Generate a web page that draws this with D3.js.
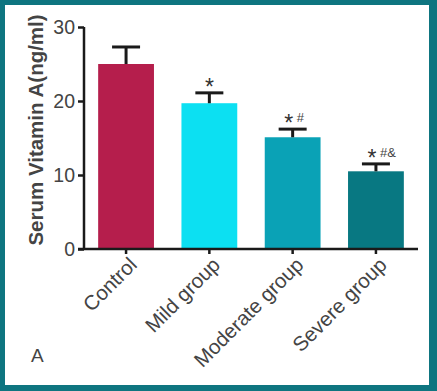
<!DOCTYPE html>
<html><head><meta charset="utf-8">
<script src="https://cdn.jsdelivr.net/npm/d3@7"></script>
<style>body{margin:0;background:#fff}svg{display:block}</style>
</head><body><svg id="c" width="437" height="391"></svg>
<script>
const categories = ["Control", "Mild group", "Moderate group", "Severe group"];
const means = [25.0, 19.7, 15.1, 10.5];
const errors = [2.3, 1.4, 1.1, 1.0];
const marksStar = ["", "*", "*", "*"];
const marksExtra = ["", "", "#", "#&"];
const colors = ["#b51e4c", "#0ce0f2", "#0aa2b6", "#087882"];
const yTicks = [0, 10, 20, 30];

const svg = d3.select("#c");
svg.append("rect").attr("x", 0).attr("y", 0).attr("width", 437).attr("height", 391).attr("fill", "#0e7580");
svg.append("rect").attr("x", 5).attr("y", 5).attr("width", 424).attr("height", 380).attr("fill", "#fff");

const y = d3.scaleLinear().domain([0, 30]).range([249, 27]);
const x = d3.scaleBand().domain(categories).range([84, 418]).paddingInner(0.33).paddingOuter(0.17);

const font = "Liberation Sans, Arial, sans-serif";
svg.selectAll(".bar").data(categories).enter().append("rect")
  .attr("x", d => x(d)).attr("width", x.bandwidth())
  .attr("y", (d, i) => y(means[i])).attr("height", (d, i) => y(0) - y(means[i]))
  .attr("fill", (d, i) => colors[i]);

const eg = svg.append("g").attr("stroke", "#1a1a1a").attr("stroke-width", 3);
categories.forEach((d, i) => {
  const cx = x(d) + x.bandwidth() / 2;
  eg.append("line").attr("x1", cx).attr("x2", cx).attr("y1", y(means[i])).attr("y2", y(means[i] + errors[i]));
  eg.append("line").attr("x1", cx - 14).attr("x2", cx + 14).attr("y1", y(means[i] + errors[i])).attr("y2", y(means[i] + errors[i]));
});

categories.forEach((d, i) => {
  if (!marksStar[i]) return;
  const cx = x(d) + x.bandwidth() / 2;
  const top = y(means[i] + errors[i]);
  const sx = marksExtra[i] ? cx - 4 : cx;
  svg.append("text").attr("x", sx).attr("y", top + 2).attr("text-anchor", "middle")
    .attr("font-family", font).attr("font-size", 23).attr("fill", "#333").text(marksStar[i]);
  if (marksExtra[i]) {
    svg.append("text").attr("x", cx + 4).attr("y", top - 7).attr("text-anchor", "start")
      .attr("font-family", font).attr("font-size", 13).attr("fill", "#444").text(marksExtra[i]);
  }
});

const yAxis = d3.axisLeft(y).tickValues(yTicks).tickSize(6).tickPadding(3);
const gy = svg.append("g").attr("transform", "translate(84,0)").call(yAxis);
gy.select(".domain").attr("stroke", "#1a1a1a").attr("stroke-width", 2.5).attr("d", "M0,249V27");
gy.selectAll(".tick line").attr("stroke", "#1a1a1a").attr("stroke-width", 2.5);
gy.selectAll(".tick text").attr("font-family", font).attr("font-size", 19.5).attr("fill", "#444");

const xAxis = d3.axisBottom(x).tickSize(5).tickFormat("");
const gx = svg.append("g").attr("transform", "translate(0,249)").call(xAxis);
gx.select(".domain").attr("stroke", "#1a1a1a").attr("stroke-width", 2.5).attr("d", "M78,0H418");
gx.selectAll(".tick line").attr("stroke", "#1a1a1a").attr("stroke-width", 2.5);

svg.selectAll(".xl").data(categories).enter().append("text")
  .attr("transform", d => `translate(${x(d) + x.bandwidth() / 2 + 7},${261}) rotate(-45)`)
  .attr("text-anchor", "end").attr("dy", "0.35em")
  .attr("font-family", font).attr("font-size", 20.5).attr("fill", "#444")
  .text(d => d);

svg.append("text").attr("transform", "translate(36,130) rotate(-90)")
  .attr("text-anchor", "middle").attr("dy", "0.35em")
  .attr("font-family", font).attr("font-size", 20.5).attr("font-weight", "bold").attr("fill", "#444")
  .text("Serum Vitamin A(ng/ml)");

svg.append("text").attr("x", 31).attr("y", 362).attr("font-family", font).attr("font-size", 19).attr("fill", "#444").text("A");
</script></body></html>
